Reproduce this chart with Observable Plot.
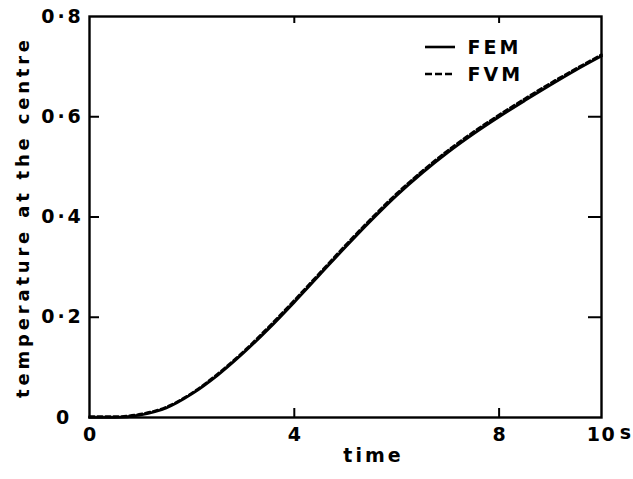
<!DOCTYPE html>
<html>
<head>
<meta charset="utf-8">
<script src="https://cdn.jsdelivr.net/npm/d3@7"></script>
<script src="https://cdn.jsdelivr.net/npm/@observablehq/plot@0.6"></script>
<style>
  html, body { margin: 0; padding: 0; background: #fff; }
  svg { font-family: "DejaVu Sans", sans-serif; font-weight: bold; }
</style>
</head>
<body>
<div id="chart"></div>
<script>
// time (s)
const time = [0, 0.5, 1.0, 1.5, 2.0, 2.5, 3.0, 3.5, 4.0, 4.5, 5.0, 5.5, 6.0, 6.5, 7.0, 7.5, 8.0, 8.5, 9.0, 9.5, 10.0];
// temperature at the centre
const fem = [0, 0.0, 0.005, 0.019, 0.047, 0.084, 0.128, 0.177, 0.230, 0.285, 0.340, 0.393, 0.443, 0.488, 0.529, 0.566, 0.600, 0.632, 0.663, 0.693, 0.721];
const fvm = [0, 0.0, 0.005, 0.019, 0.047, 0.085, 0.129, 0.179, 0.232, 0.287, 0.342, 0.395, 0.445, 0.490, 0.531, 0.568, 0.602, 0.634, 0.665, 0.694, 0.722];
const xTickValues = [0, 4, 8, 10];
const xTickLabels = ["0", "4", "8", "10"];
const xInnerTicks = [4, 8];
const yTickValues = [0, 0.2, 0.4, 0.6, 0.8];
const yTickLabels = ["0", "0·2", "0·4", "0·6", "0·8"];
const yInnerTicks = [0.2, 0.4, 0.6];
const seriesNames = ["FEM", "FVM"];
const seriesDash = [null, "7,3"];

const W = 633, H = 479;
const mL = 89, mR = 32, mT = 16, mB = 62;
const pw = W - mL - mR, ph = H - mT - mB;

const femData = time.map((t, i) => ({t, v: fem[i]}));
const fvmData = time.map((t, i) => ({t, v: fvm[i]}));
const xLab = xTickValues.map((v, i) => ({v, s: xTickLabels[i]}));
const yLab = yTickValues.map((v, i) => ({v, s: yTickLabels[i]}));

const legendRowY = [31, 58]; // offsets from top of frame (layout)

const plot = Plot.plot({
  width: W,
  height: H,
  marginLeft: mL, marginRight: mR, marginTop: mT, marginBottom: mB,
  x: {domain: [0, 10], axis: null},
  y: {domain: [0, 0.8], axis: null},
  style: {fontFamily: "DejaVu Sans, sans-serif", fontWeight: "bold", color: "#000", background: "#fff"},
  marks: [
    Plot.frame({stroke: "#000", strokeWidth: 2.4}),
    // inward ticks
    Plot.ruleY(yInnerTicks, {y: d => d, insetRight: pw - 10, stroke: "#000", strokeWidth: 2}),
    Plot.ruleY(yInnerTicks, {y: d => d, insetLeft: pw - 13, stroke: "#000", strokeWidth: 2}),
    Plot.ruleX(xInnerTicks, {x: d => d, insetTop: ph - 9, stroke: "#000", strokeWidth: 2}),
    Plot.ruleX(xInnerTicks, {x: d => d, insetBottom: ph - 7, stroke: "#000", strokeWidth: 2}),
    // tick labels
    Plot.text(yLab, {y: "v", text: "s", frameAnchor: "left", dx: -27, textAnchor: "middle", fontSize: 19, fill: "#000"}),
    Plot.text(xLab, {x: "v", text: "s", frameAnchor: "bottom", dy: 23, textAnchor: "middle", fontSize: 19, fill: "#000"}),
    Plot.text(["s"], {x: () => 10, text: d => d, frameAnchor: "bottom", dy: 21, dx: 24, textAnchor: "middle", fontSize: 19, fill: "#000"}),
    // axis titles
    Plot.text(["time"], {text: d => d, frameAnchor: "bottom", dx: 28, dy: 44, textAnchor: "middle", fontSize: 19, fill: "#000"}),
    Plot.text(["temperature at the centre"], {text: d => d, frameAnchor: "left", dx: -66, rotate: -90, textAnchor: "middle", fontSize: 18, fill: "#000"}),
    // curves
    Plot.line(femData, {x: "t", y: "v", curve: "monotone-x", stroke: "#000", strokeWidth: 2.7}),
    Plot.line(fvmData, {x: "t", y: "v", curve: "monotone-x", stroke: "#000", strokeWidth: 2.4, strokeDasharray: "5,3", dy: -1}),
    // legend labels
    ...seriesNames.map((name, i) =>
      Plot.text([name], {text: d => d, frameAnchor: "top-left", textAnchor: "start", lineAnchor: "middle", dx: 378, dy: legendRowY[i], fontSize: 19, fill: "#000"})
    )
  ]
});

const svg = d3.select(plot);
svg.selectAll("text").each(function() {
  const t = d3.select(this);
  const txt = t.text();
  if (txt === "temperature at the centre") t.attr("letter-spacing", "3.8px");
  else if (txt.length > 1 && txt !== "10") t.attr("letter-spacing", "3px");
  else if (txt.length > 1) t.attr("letter-spacing", "1.5px");
});
// legend sample lines (layout only)
const lg = svg.append("g");
seriesNames.forEach((name, i) => {
  const y = mT + legendRowY[i];
  lg.append("line").attr("x1", 425).attr("x2", 455).attr("y1", y).attr("y2", y)
    .attr("stroke", "#000").attr("stroke-width", 2.6)
    .attr("stroke-dasharray", seriesDash[i]);
});

document.getElementById("chart").appendChild(plot);
</script>
</body>
</html>
